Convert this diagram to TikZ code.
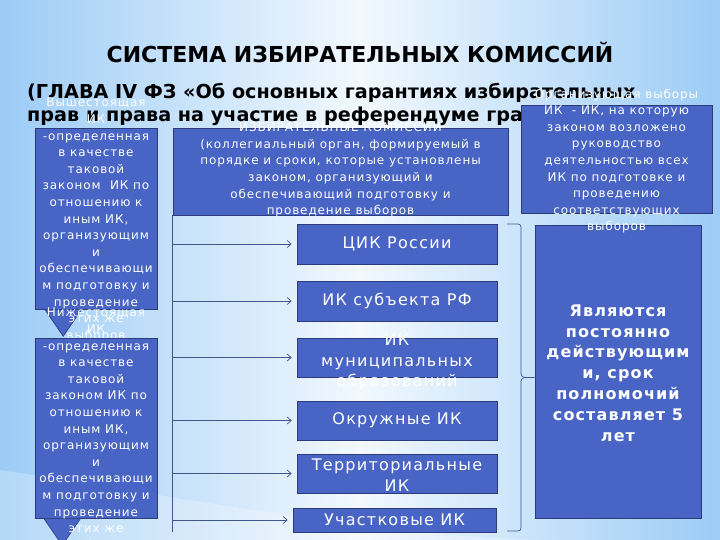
\documentclass[tikz,border=0pt]{standalone}
\usepackage{fontspec}
\setmainfont{DejaVu Sans}
\newfontfamily\boxfont[LetterSpace=7.5]{DejaVu Sans}
\newfontfamily\levfont[LetterSpace=8]{DejaVu Sans}
\newfontfamily\termfont[LetterSpace=7]{DejaVu Sans}
\usetikzlibrary{arrows.meta, positioning, calc}
\definecolor{boxfill}{RGB}{72, 100, 196}
\definecolor{boxline}{RGB}{44, 60, 122}
\definecolor{bgside}{RGB}{156, 204, 246}
\definecolor{bgmid}{RGB}{242, 248, 254}
\definecolor{linkline}{RGB}{66, 86, 140}

\begin{document}
\begin{tikzpicture}[x=1pt, y=-1pt,
    ikbox/.style={rectangle, draw=boxline, fill=boxfill, line width=0.6pt, inner sep=0pt},
    iktext/.style={text=white, align=center, inner sep=0pt, font=\boxfont\fontsize{12}{16.6}\selectfont},
    levtext/.style={text=white, align=center, inner sep=0pt, font=\levfont\fontsize{16}{20.5}\selectfont},
    link/.style={linkline, line width=0.7pt},
    >={Straight Barb[length=4pt, width=7pt]}
  ]
  \useasboundingbox (0,0) rectangle (720,540);
  \clip (0,0) rectangle (720,540);
  \shade[left color=bgside, right color=bgside, middle color=bgmid] (0,0) rectangle (720,540);
  \fill[white, opacity=0.25] (0,470) .. controls (200,500) and (400,540) .. (560,540) -- (0,540) -- cycle;

  % headings
  \node[inner sep=0pt, font=\bfseries\fontsize{22}{26}\selectfont] (title) at (360,52) {СИСТЕМА ИЗБИРАТЕЛЬНЫХ КОМИССИЙ};
  \node[anchor=north west, inner sep=0pt, align=left, font=\bfseries\fontsize{19.2}{23}\selectfont] (chapter) at (27,83) {(ГЛАВА IV ФЗ «Об основных гарантиях избирательных\\прав и права на участие в референдуме граждан РФ»)};

  % connectors
  \coordinate (trunk) at (172,215);

  % left column
  \node[ikbox, minimum width=122pt, minimum height=181pt] (upper) at (96,218.5) {};
  \filldraw[boxfill, draw=boxline, line width=0.6pt] ([xshift=10pt]upper.south west) -- ([xshift=47pt]upper.south west) -- ([xshift=28.5pt, yshift=-27pt]upper.south west) -- cycle;
  \node[iktext] (uppertxt) at (96,220) {Вышестоящая\\ИК\\-определенная\\в качестве\\таковой\\законом~~ИК по\\отношению к\\иным ИК,\\организующим\\и\\обеспечивающи\\м подготовку и\\проведение\\этих же\\выборов};

  \node[ikbox, minimum width=122pt, minimum height=180pt] (lower) at (96,428) {};
  \filldraw[boxfill, draw=boxline, line width=0.6pt] ([xshift=9pt]lower.south west) -- ([xshift=46pt]lower.south west) -- ([xshift=27.5pt, yshift=-27pt]lower.south west) -- cycle;
  \node[iktext] (lowertxt) at (96,430) {Нижестоящая\\ИК\\-определенная\\в качестве\\таковой\\законом ИК по\\отношению к\\иным ИК,\\организующим\\и\\обеспечивающи\\м подготовку и\\проведение\\этих же\\выборов};

  % top middle
  \node[ikbox, minimum width=335pt, minimum height=87pt] (izb) at (340.5,171.5) {};
  \node[iktext] (izbtxt) at (340.5,170) {ИЗБИРАТЕЛЬНЫЕ КОМИССИИ\\(коллегиальный орган, формируемый в\\порядке и сроки, которые установлены\\законом, организующий и\\обеспечивающий подготовку и\\проведение выборов};

  % right column
  \node[ikbox, minimum width=166pt, minimum height=293pt] (term) at (618,371.5) {};
  \node[text=white, align=center, inner sep=0pt, font=\termfont\bfseries\fontsize{16}{20.8}\selectfont] (termtxt) at (618,373) {Являются\\постоянно\\действующим\\и, срок\\полномочий\\составляет 5\\лет};

  \node[ikbox, minimum width=191pt, minimum height=108pt] (org) at (616.5,159) {};
  \node[iktext] (orgtxt) at (616.5,161) {Организующая выборы\\ИК~~- ИК, на которую\\законом возложено\\руководство\\деятельностью всех\\ИК по подготовке и\\проведению\\соответствующих\\выборов};

  % levels
  \node[ikbox, minimum width=200pt, minimum height=40pt] (cik) at (397,244) {};
  \node[levtext] at (cik) {ЦИК России};
  \node[ikbox, minimum width=200pt, minimum height=40pt] (subj) at (397,301) {};
  \node[levtext] at (subj) {ИК субъекта РФ};
  \node[ikbox, minimum width=200pt, minimum height=39pt] (mun) at (397,357.5) {};
  \node[levtext] at (397,362) {ИК\\муниципальных\\образований};
  \node[ikbox, minimum width=200pt, minimum height=39pt] (okr) at (397,420.5) {};
  \node[levtext] at (okr) {Окружные ИК};
  \node[ikbox, minimum width=200pt, minimum height=39pt] (terr) at (397,473.5) {};
  \node[levtext] at (397,475) {Территориальные\\ИК};
  \node[ikbox, minimum width=203pt, minimum height=24pt] (uch) at (394.5,520) {};
  \node[levtext] at (uch) {Участковые ИК};

  \draw[link] (trunk) -- (trunk |- uch.south);
  \foreach \b in {cik, subj, mun, okr, terr, uch} {
    \draw[->, link, shorten >=5pt] (trunk |- \b.west) -- (\b.west);
  }

  % brace
  \coordinate (bracetop) at (507,224);
  \coordinate (bracebot) at (507,531);
  \coordinate (bracetip) at ([yshift=-6pt]term.west);
  \draw[link] (bracetop) -- (518,224) to[out=0, in=90] (521,227) -- (521,374) to[out=-90, in=180] (525,377.5) -- (bracetip);
  \draw[link] (525,377.5) to[out=180, in=90] (521,381) -- (521,528) to[out=-90, in=0] (518,531) -- (bracebot);

\end{tikzpicture}
\end{document}
